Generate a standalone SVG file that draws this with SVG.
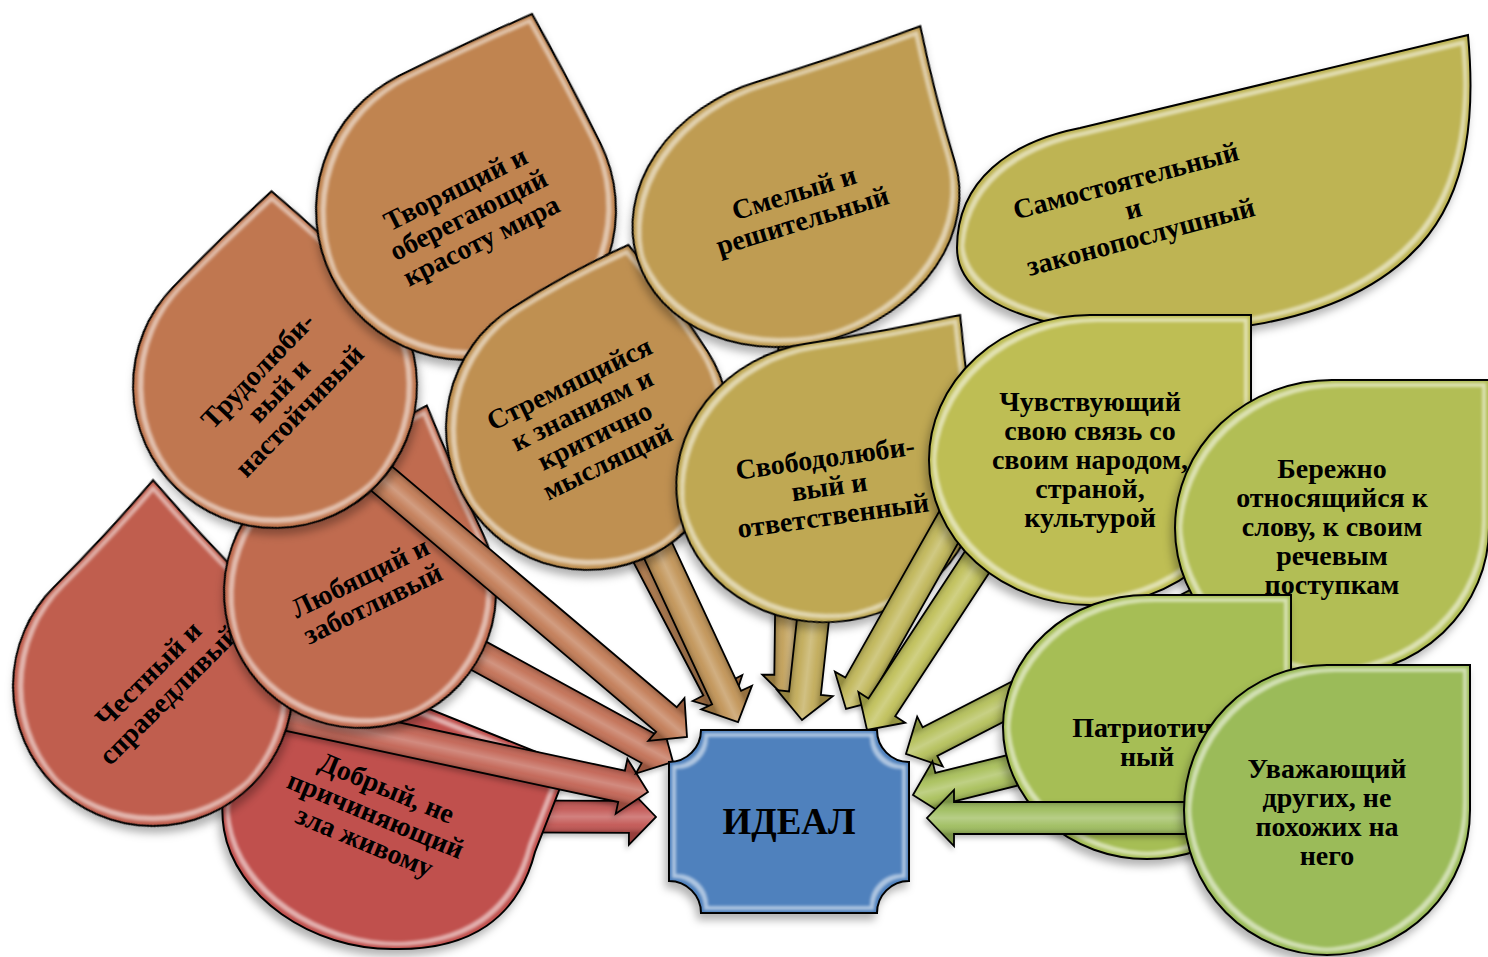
<svg xmlns="http://www.w3.org/2000/svg" width="1488" height="957" viewBox="0 0 1488 957">
<defs>
<filter id="bev" x="-15%" y="-15%" width="130%" height="135%" color-interpolation-filters="sRGB">
 <feOffset in="SourceAlpha" dx="-3" dy="6" result="o"/>
 <feGaussianBlur in="o" stdDeviation="4" result="ob"/>
 <feFlood flood-color="#000" flood-opacity="0.3"/>
 <feComposite in2="ob" operator="in" result="sh"/>
 <feMorphology in="SourceAlpha" operator="erode" radius="4" result="e1"/>
 <feMorphology in="SourceAlpha" operator="erode" radius="8" result="e2"/>
 <feComposite in="e1" in2="e2" operator="out" result="band"/>
 <feGaussianBlur in="band" stdDeviation="1.6" result="bb"/>
 <feFlood flood-color="#fff" flood-opacity="0.55"/>
 <feComposite in2="bb" operator="in" result="hl"/>
 <feMerge><feMergeNode in="sh"/><feMergeNode in="SourceGraphic"/><feMergeNode in="hl"/></feMerge>
</filter>
<filter id="ash" x="-10%" y="-30%" width="120%" height="160%" color-interpolation-filters="sRGB">
 <feOffset in="SourceAlpha" dx="-2" dy="3" result="o"/>
 <feGaussianBlur in="o" stdDeviation="2.5" result="ob"/>
 <feFlood flood-color="#000" flood-opacity="0.25"/>
 <feComposite in2="ob" operator="in" result="sh"/>
 <feMerge><feMergeNode in="sh"/><feMergeNode in="SourceGraphic"/></feMerge>
</filter>
<linearGradient id="ag" gradientUnits="userSpaceOnUse" x1="0" y1="-16" x2="0" y2="16">
 <stop offset="0" stop-color="#000" stop-opacity="0.22"/>
 <stop offset="0.25" stop-color="#fff" stop-opacity="0.08"/>
 <stop offset="0.5" stop-color="#fff" stop-opacity="0.28"/>
 <stop offset="0.75" stop-color="#fff" stop-opacity="0.08"/>
 <stop offset="1" stop-color="#000" stop-opacity="0.22"/>
</linearGradient>
<style>
 .nd { stroke:#000; stroke-width:2; filter:url(#bev); }
 .ab { stroke:none; }
 .ao { fill:url(#ag); stroke:#000; stroke-width:1.8; }
 .ar { filter:url(#ash); }
 .t { font-family:"Liberation Serif","Times New Roman",serif; font-weight:bold; font-size:28px; text-anchor:middle; fill:#000; }
 .big { font-size:37px; }
</style>
</defs>
<rect width="1488" height="957" fill="#fff"/>

<!-- Добрый -->
<g id="conn-dobryi" class="ar"><g transform="translate(378,816) rotate(0.2)"><path class="ab" fill="#C0504D" d="M0,-16H251V-28L278,0L251,28V16H0Z"/><path class="ao" d="M0,-16H251V-28L278,0L251,28V16H0Z"/></g></g>
<g id="node-dobryi">
 <path class="nd" fill="#C0504D" d="M569,765 L535,852 C518,918 470,950 395,949 C310,950 235,895 224,830 C214,770 250,700 320,665 Z"/>
 <g transform="translate(376,814) rotate(22.5)"><text class="t"><tspan x="0" y="-19">Добрый, не</tspan><tspan x="0" y="10">причиняющий</tspan><tspan x="0" y="39">зла живому</tspan></text></g>
</g>

<!-- Честный -->
<g id="conn-chestnyi" class="ar"><g transform="translate(153,686) rotate(12.09)"><path class="ab" fill="#C05E4E" d="M0,-16H479.2V-28L506.2,0L479.2,28V16H0Z"/><path class="ao" d="M0,-16H479.2V-28L506.2,0L479.2,28V16H0Z"/></g></g>
<g id="node-chestnyi">
 <path class="nd" fill="#C05E4E" transform="translate(153,686) rotate(-45)" d="M-140,0 A140 140 0 0 1 0,-140 Q72.8,-140 145.6,-145.6 Q140,-72.8 140,0 A140 140 0 0 1 0,140 A140 140 0 0 1 -140,0 Z"/>
 <g transform="translate(158,684) rotate(-45)"><text class="t"><tspan x="0" y="-4.5">Честный и</tspan><tspan x="0" y="24.5">справедливый</tspan></text></g>
</g>

<!-- Любящий -->
<g id="conn-lyubyashchii" class="ar"><g transform="translate(362,592) rotate(28.66)"><path class="ab" fill="#C06B4F" d="M0,-16H327.4V-28L354.4,0L327.4,28V16H0Z"/><path class="ao" d="M0,-16H327.4V-28L354.4,0L327.4,28V16H0Z"/></g></g>
<g id="node-lyubyashchii">
 <path class="nd" fill="#C06B4F" transform="translate(360,592) rotate(-25.3)" d="M-136,0 A136 136 0 0 1 0,-136 Q70,-136 140.1,-140.1 Q136,-70 136,0 A136 136 0 0 1 0,136 A136 136 0 0 1 -136,0 Z"/>
 <g transform="translate(366,590) rotate(-26)"><text class="t"><tspan x="0" y="-4.5">Любящий и</tspan><tspan x="0" y="24.5">заботливый</tspan></text></g>
</g>

<!-- Трудолюбивый -->
<g id="conn-trudolyubivyi" class="ar"><g transform="translate(277,390) rotate(40.24)"><path class="ab" fill="#C07750" d="M0,-16H510.1V-28L537.1,0L510.1,28V16H0Z"/><path class="ao" d="M0,-16H510.1V-28L537.1,0L510.1,28V16H0Z"/></g></g>
<g id="node-trudolyubivyi">
 <path class="nd" fill="#C07750" transform="translate(275,386) rotate(-46)" d="M-142,0 A142 142 0 0 1 0,-142 Q68.9,-142 137.7,-137.7 Q142,-68.9 142,0 A142 142 0 0 1 0,142 A142 142 0 0 1 -142,0 Z"/>
 <g transform="translate(278,390) rotate(-46)"><text class="t"><tspan x="0" y="-19">Трудолюби-</tspan><tspan x="0" y="10">вый и</tspan><tspan x="0" y="39">настойчивый</tspan></text></g>
</g>

<!-- Творящий -->
<g id="conn-tvoryashchii" class="ar"><g transform="translate(470,216) rotate(62.33)"><path class="ab" fill="#C08450" d="M0,-16H533V-28L560,0L533,28V16H0Z"/><path class="ao" d="M0,-16H533V-28L560,0L533,28V16H0Z"/></g></g>
<g id="node-tvoryashchii">
 <path class="nd" fill="#C08450" transform="translate(466,210) rotate(-26.4)" d="M-150,0 A150 150 0 0 1 0,-150 Q73.1,-150 146.3,-146.3 Q150,-73.1 150,0 A150 150 0 0 1 0,150 A150 150 0 0 1 -150,0 Z"/>
 <g transform="translate(468,214) rotate(-26.5)"><text class="t"><tspan x="0" y="-19">Творящий и</tspan><tspan x="0" y="10">оберегающий</tspan><tspan x="0" y="39">красоту мира</tspan></text></g>
</g>

<!-- Стремящийся -->
<g id="conn-stremyashchiisya" class="ar"><g transform="translate(600,426) rotate(65)"><path class="ab" fill="#BF9051" d="M0,-16H299.6V-28L326.6,0L299.6,28V16H0Z"/><path class="ao" d="M0,-16H299.6V-28L326.6,0L299.6,28V16H0Z"/></g></g>
<g id="node-stremyashchiisya">
 <path class="nd" fill="#BF9051" transform="translate(588,428) rotate(-32.6)" d="M-142,0 A142 142 0 0 1 0,-142 Q66.3,-142 132.6,-132.6 Q142,-66.3 142,0 A142 142 0 0 1 0,142 A142 142 0 0 1 -142,0 Z"/>
 <g transform="translate(588,422) rotate(-26)"><text class="t"><tspan x="0" y="-33.5">Стремящийся</tspan><tspan x="0" y="-4.5">к знаниям и</tspan><tspan x="0" y="24.5">критично</tspan><tspan x="0" y="53.5">мыслящий</tspan></text></g>
</g>

<!-- Смелый -->
<g id="conn-smelyi" class="ar"><g transform="translate(796,210) rotate(90.7)"><path class="ab" fill="#BF9C52" d="M0,-16H465V-28L492,0L465,28V16H0Z"/><path class="ao" d="M0,-16H465V-28L492,0L465,28V16H0Z"/></g></g>
<g id="node-smelyi">
 <path class="nd" fill="#BF9C52" transform="translate(796,210) rotate(-17)" d="M-166,0 A166 134 0 0 1 0,-134 Q86.3,-134 172.6,-139.4 Q166,-69.7 166,0 A166 134 0 0 1 0,134 A166 134 0 0 1 -166,0 Z"/>
 <g transform="translate(798,206) rotate(-17)"><text class="t"><tspan x="0" y="-4.5">Смелый и</tspan><tspan x="0" y="24.5">решительный</tspan></text></g>
</g>

<!-- Свободолюбивый -->
<g id="conn-svobodolyubivyi" class="ar"><g transform="translate(828,482) rotate(96.23)"><path class="ab" fill="#BFA853" d="M0,-16H212.4V-28L239.4,0L212.4,28V16H0Z"/><path class="ao" d="M0,-16H212.4V-28L239.4,0L212.4,28V16H0Z"/></g></g>
<g id="node-svobodolyubivyi">
 <path class="nd" fill="#BFA853" transform="translate(828,482) rotate(-9)" d="M-152,0 A152 140 0 0 1 0,-140 Q78.3,-140 156.6,-144.2 Q152,-72.1 152,0 A152 140 0 0 1 0,140 A152 140 0 0 1 -152,0 Z"/>
 <g transform="translate(829,486) rotate(-8)"><text class="t"><tspan x="0" y="-19">Свободолюби-</tspan><tspan x="0" y="10">вый и</tspan><tspan x="0" y="39">ответственный</tspan></text></g>
</g>

<!-- Самостоятельный -->
<g id="conn-samostoyatelnyi" class="ar"><g transform="translate(1125,215) rotate(119.46)"><path class="ab" fill="#BEB453" d="M0,-16H540.3V-28L567.3,0L540.3,28V16H0Z"/><path class="ao" d="M0,-16H540.3V-28L567.3,0L540.3,28V16H0Z"/></g></g>
<g id="node-samostoyatelnyi">
 <path class="nd" fill="#BEB453" d="M1468,35 C1475,110 1470,190 1420,245 C1370,300 1290,326 1190,332 C1060,338 957,310 957,248 C957,180 1010,142 1080,128 Z"/>
 <g transform="translate(1133,208) rotate(-15)"><text class="t"><tspan x="0" y="-19">Самостоятельный</tspan><tspan x="0" y="10">и</tspan><tspan x="0" y="39">законопослушный</tspan></text></g>
</g>

<!-- Чувствующий -->
<g id="conn-chuvstvuyushchii" class="ar"><g transform="translate(1044,460) rotate(123.25)"><path class="ab" fill="#BEBE54" d="M0,-16H295.8V-28L322.8,0L295.8,28V16H0Z"/><path class="ao" d="M0,-16H295.8V-28L322.8,0L295.8,28V16H0Z"/></g></g>
<g id="node-chuvstvuyushchii">
 <path class="nd" fill="#BEBE54" transform="translate(1090,460)" d="M-161,0 A161 145 0 0 1 0,-145 L161,-145 L161,0 A161 145 0 0 1 0,145 A161 145 0 0 1 -161,0 Z"/>
 <text class="t" transform="translate(1090,459)"><tspan x="0" y="-48">Чувствующий</tspan><tspan x="0" y="-19">свою связь со</tspan><tspan x="0" y="10">своим народом,</tspan><tspan x="0" y="39">страной,</tspan><tspan x="0" y="68">культурой</tspan></text>
</g>

<!-- Бережно -->
<g id="conn-berezhno" class="ar"><g transform="translate(1332,535) rotate(152.8)"><path class="ab" fill="#B2BE55" d="M0,-16H452V-28L479,0L452,28V16H0Z"/><path class="ao" d="M0,-16H452V-28L479,0L452,28V16H0Z"/></g></g>
<g id="node-berezhno">
 <path class="nd" fill="#B2BE55" transform="translate(1332,528)" d="M-157,0 A157 148 0 0 1 0,-148 L157,-148 L157,0 A157 148 0 0 1 0,148 A157 148 0 0 1 -157,0 Z"/>
 <text class="t" transform="translate(1332,526)"><tspan x="0" y="-48">Бережно</tspan><tspan x="0" y="-19">относящийся к</tspan><tspan x="0" y="10">слову, к своим</tspan><tspan x="0" y="39">речевым</tspan><tspan x="0" y="68">поступкам</tspan></text>
</g>

<!-- Патриотичный -->
<g id="conn-patriotichnyi" class="ar"><g transform="translate(1147,737) rotate(166.08)"><path class="ab" fill="#A6BE55" d="M0,-16H214.1V-28L241.1,0L214.1,28V16H0Z"/><path class="ao" d="M0,-16H214.1V-28L241.1,0L214.1,28V16H0Z"/></g></g>
<g id="node-patriotichnyi">
 <path class="nd" fill="#A6BE55" transform="translate(1147,727)" d="M-144,0 A144 132 0 0 1 0,-132 L144,-132 L144,0 A144 132 0 0 1 0,132 A144 132 0 0 1 -144,0 Z"/>
 <text class="t" transform="translate(1147,741)"><tspan x="0" y="-4.5">Патриотич-</tspan><tspan x="0" y="24.5">ный</tspan></text>
</g>

<!-- Уважающий -->
<g id="conn-uvazhayushchii" class="ar"><g transform="translate(1327,818) rotate(180)"><path class="ab" fill="#9BBB59" d="M0,-16H373V-28L400,0L373,28V16H0Z"/><path class="ao" d="M0,-16H373V-28L400,0L373,28V16H0Z"/></g></g>
<g id="node-uvazhayushchii">
 <path class="nd" fill="#9BBB59" transform="translate(1327,810)" d="M-143,0 A143 145 0 0 1 0,-145 L143,-145 L143,0 A143 145 0 0 1 0,145 A143 145 0 0 1 -143,0 Z"/>
 <text class="t" transform="translate(1327,811)"><tspan x="0" y="-33.5">Уважающий</tspan><tspan x="0" y="-4.5">других, не</tspan><tspan x="0" y="24.5">похожих на</tspan><tspan x="0" y="53.5">него</tspan></text>
</g>

<!-- ИДЕАЛ -->
<g id="node-ideal">
 <path class="nd" fill="#4F81BD" d="M701,730 H877 A32 32 0 0 0 909,762 V881 A32 32 0 0 0 877,913 H701 A32 32 0 0 0 669,881 V762 A32 32 0 0 0 701,730 Z"/>
 <text class="t big" x="789" y="834">ИДЕАЛ</text>
</g>
</svg>
